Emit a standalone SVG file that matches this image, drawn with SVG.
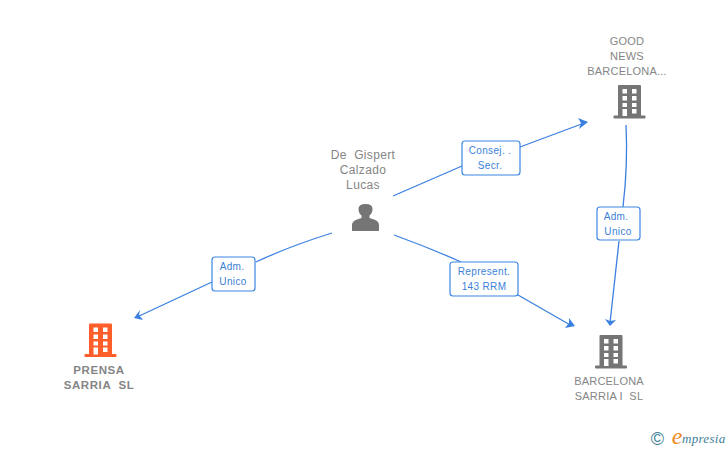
<svg xmlns="http://www.w3.org/2000/svg" width="728" height="450" viewBox="0 0 728 450">
<style>
text{font-family:"Liberation Sans",Arial,sans-serif;white-space:pre}
.n{font-size:11px;fill:#858585;text-anchor:middle;letter-spacing:.2px}
.p{font-size:12px;letter-spacing:.35px}
.b{font-weight:bold;font-size:11.5px;letter-spacing:.6px}
.e{fill:none;stroke:#3b80e0;stroke-width:1.3}
.h{fill:#3b80e0}
.lb{fill:#fff;stroke:#3b86e4;stroke-width:1.2}
.lt{font-size:10px;fill:#3b7fd8;text-anchor:middle;letter-spacing:.35px}
.g{fill:#757575}.o{fill:#ff5e2b}.w{fill:#fff}
</style>
<defs>
<g id="bld">
<path d="M-11.500 -16a1 1 0 0 1 1-1h21a1 1 0 0 1 1 1V14H-11.500Z"/>
<rect x="-16" y="13.500" width="32" height="3" rx="1"/>
<g class="w">
<rect x="-7" y="-13" width="4.500" height="4.500"/><rect x="2.500" y="-13" width="4.500" height="4.500"/>
<rect x="-7" y="-6" width="4.500" height="4.500"/><rect x="2.500" y="-6" width="4.500" height="4.500"/>
<rect x="-7" y="1" width="4.500" height="4"/><rect x="2.500" y="1" width="4.500" height="4"/>
<rect x="-7" y="7" width="4.500" height="7"/><rect x="2.500" y="7" width="4.500" height="4.500"/>
</g>
</g>
</defs>
<g id="connectors">
<path class="e" d="M393 196 L462 166"/>
<path class="e" d="M520 147 L587 122"/>
<path class="h" d="M588 122 L578 118 L581 123 L579 129Z"/>
<path class="e" d="M626 125 Q628 165 623 207"/>
<path class="e" d="M619 241 L610 323"/>
<path class="h" d="M610 326 L605 319 L610 321 L616 320Z"/>
<path class="e" d="M394 235 Q430 248 461 262"/>
<path class="e" d="M518 295 L572 326"/>
<path class="h" d="M575 326 L569 318 L569 323 L565 328Z"/>
<path class="e" d="M332 233 Q290 246 256 262"/>
<path class="e" d="M212 282 L137 317"/>
<path class="h" d="M134 318 L140 310 L139 315 L143 320Z"/>
</g>
<g id="node-good-news">
<text class="n"><tspan x="627" y="45">GOOD</tspan><tspan x="627" y="60">NEWS</tspan><tspan x="627" y="75">BARCELONA...</tspan></text>
<use href="#bld" class="g" x="629.500" y="102"/>
</g>
<g id="node-person">
<text class="n p"><tspan x="363" y="159">De  Gispert</tspan><tspan x="363" y="174">Calzado</tspan><tspan x="363" y="189">Lucas</tspan></text>
<path class="g" d="M352 231V225Q352 221 357 219.500L361.500 218V215.500Q358.500 213 358.500 209Q358.500 204 365.500 204Q372.500 204 372.500 209Q372.500 213 369.500 215.500V218L374 219.500Q379 221 379 225V231Z"/>
</g>
<g id="node-prensa">
<use href="#bld" class="o" x="100.500" y="340.500"/>
<text class="n b"><tspan x="99" y="374">PRENSA</tspan><tspan x="99" y="389">SARRIA  SL</tspan></text>
</g>
<g id="node-barcelona">
<use href="#bld" class="g" x="611" y="352"/>
<text class="n"><tspan x="609" y="385">BARCELONA</tspan><tspan x="609" y="400">SARRIA I  SL</tspan></text>
</g>
<g id="label-consej">
<rect class="lb" x="462" y="141" width="58" height="34" rx="3"/>
<text class="lt"><tspan x="490" y="154">Consej. .</tspan><tspan x="490" y="169">Secr.</tspan></text>
</g>
<g id="label-adm-1">
<rect class="lb" x="597" y="207" width="43" height="33" rx="3"/>
<text class="lt"><tspan x="616" y="220">Adm.</tspan><tspan x="618" y="235">Unico</tspan></text>
</g>
<g id="label-represent">
<rect class="lb" x="450" y="262" width="68" height="34" rx="3"/>
<text class="lt"><tspan x="484" y="275">Represent.</tspan><tspan x="484" y="290">143 RRM</tspan></text>
</g>
<g id="label-adm-2">
<rect class="lb" x="212" y="257" width="43" height="34" rx="3"/>
<text class="lt"><tspan x="232" y="270">Adm.</tspan><tspan x="233" y="285">Unico</tspan></text>
</g>
<g id="watermark">
<text x="657.500" y="445" font-size="18" fill="#3f7f96" text-anchor="middle">©</text>
<text x="677" y="444" font-size="24" font-style="italic" fill="#f08a1d" text-anchor="middle" style="font-family:'Liberation Serif',serif">e</text>
<text x="682" y="443" font-size="13" font-style="italic" fill="#3f7f96" style="font-family:'Liberation Serif',serif" letter-spacing=".3">mpresia</text>
</g>
</svg>
